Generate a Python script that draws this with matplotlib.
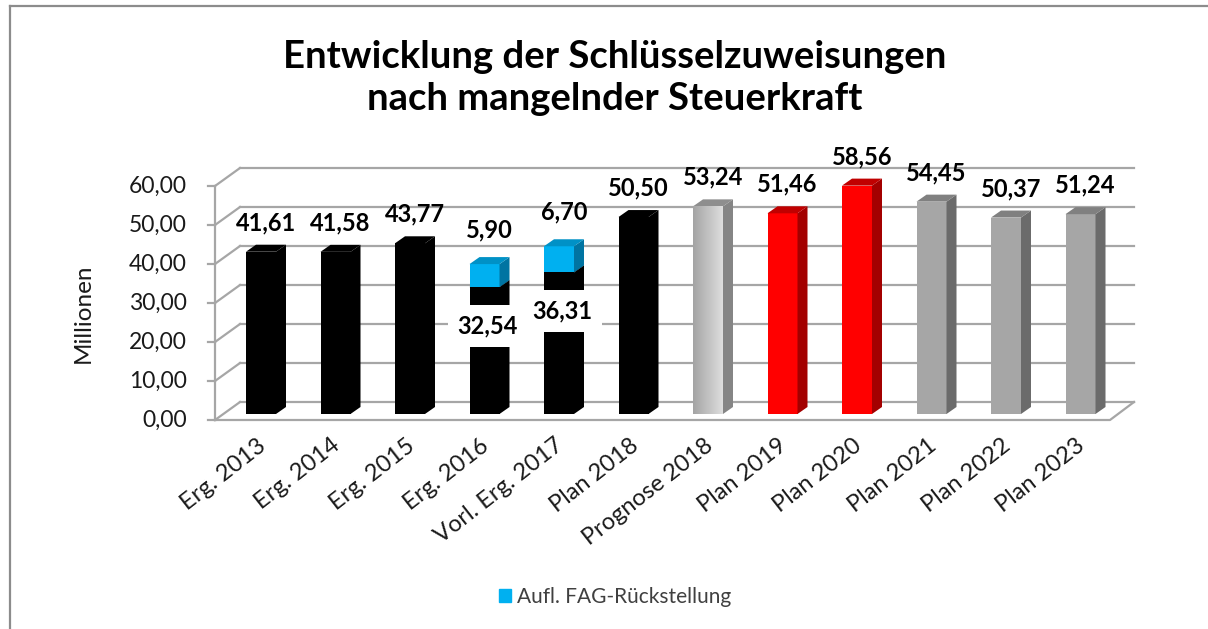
import matplotlib.pyplot as plt
import numpy as np
from matplotlib.colors import LinearSegmentedColormap
from matplotlib.lines import Line2D
from matplotlib.patches import Patch, Polygon

plt.rcParams["font.family"] = ["Lato", "DejaVu Sans"]

CATEGORIES = [
    "Erg. 2013", "Erg. 2014", "Erg. 2015", "Erg. 2016", "Vorl. Erg. 2017",
    "Plan 2018", "Prognose 2018", "Plan 2019", "Plan 2020",
    "Plan 2021", "Plan 2022", "Plan 2023",
]
VALUES = [41.61, 41.58, 43.77, 32.54, 36.31, 50.50, 53.24, 51.46, 58.56, 54.45, 50.37, 51.24]
RUECKSTELLUNG = [0, 0, 0, 5.90, 6.70, 0, 0, 0, 0, 0, 0, 0]
KIND = ["ist"] * 6 + ["prognose", "plan_rot", "plan_rot", "plan", "plan", "plan"]
Y_TICKS = [0, 10, 20, 30, 40, 50, 60]
LEGEND_LABEL = "Aufl. FAG-Rückstellung"

# (front, side, top)
COLORS = {
    "ist": ("#000000", "#000000", "#000000"),
    "prognose": ("#c8c8c8", "#858585", "#8e8e8e"),
    "plan_rot": ("#ff0000", "#a30000", "#c00000"),
    "plan": ("#a6a6a6", "#6b6b6b", "#808080"),
    "blau": ("#00b0f0", "#0074a2", "#0091c6"),
}
GRID = "#a6a6a6"

# pixel geometry of the figure
W, H = 1208, 629
CX0, STEP = 261, 74.5      # centre of first bar face, px between bars
BASE, PPU = 414, 3.9       # px of value 0 at bar plane, px per unit


def dx(px):
    return px / STEP


def dy(px):
    return px / PPU


def fmt(v):
    return f"{v:.2f}".replace(".", ",")


BW = dx(30)
DEPTH_X, DEPTH_Y = dx(10), dy(7)


def box3d(ax, x, bottom, top, colors, z=3):
    front, side, topc = colors
    xl, xr = x - BW / 2, x + BW / 2
    ax.add_patch(Polygon([(xr, bottom), (xr + DEPTH_X, bottom + DEPTH_Y),
                          (xr + DEPTH_X, top + DEPTH_Y), (xr, top)],
                         closed=True, facecolor=side, edgecolor="none", zorder=z))
    ax.add_patch(Polygon([(xl, top), (xl + DEPTH_X, top + DEPTH_Y),
                          (xr + DEPTH_X, top + DEPTH_Y), (xr, top)],
                         closed=True, facecolor=topc, edgecolor="none", zorder=z))


fig = plt.figure(figsize=(W / 100, H / 100), dpi=100)
ax = fig.add_axes([0, 0, 1, 1])
ax.axis("off")

x = np.arange(len(CATEGORIES))

# walls / floor
x_front, x_back = dx(215 - CX0), dx(240 - CX0)
x_front_r, x_back_r = dx(1110 - CX0), dx(1134 - CX0)
y_front, y_back = dy(-6), dy(12)
for t in Y_TICKS:
    ax.plot([x_back, x_back_r], [t + y_back] * 2, color=GRID, lw=1.6, zorder=1)
    ax.plot([x_front, x_back], [t + y_front, t + y_back], color=GRID, lw=1.6, zorder=1)
    ax.plot([x_front - dx(7), x_front], [t + y_front] * 2, color=GRID, lw=1.6, zorder=1)
    ax.text(dx(187 - CX0), t + y_front, fmt(t), ha="right", va="center",
            fontsize=16.5, color="#1a1a1a")
ax.plot([x_front, x_front], [y_front, Y_TICKS[-1] + y_front], color=GRID, lw=1.6, zorder=1)
ax.plot([x_front, x_front_r, x_back_r], [y_front, y_front, y_back], color=GRID, lw=1.6, zorder=1)

# bars
fronts = [COLORS[k][0] for k in KIND]
bars = ax.bar(x, VALUES, width=BW, color=fronts, zorder=3)
for i, (v, k) in enumerate(zip(VALUES, KIND)):
    box3d(ax, x[i], 0, v, COLORS[k])
    if k == "prognose":
        cmap = LinearSegmentedColormap.from_list("grad", ["#a4a4a4", "#dedede"])
        im = ax.imshow(np.linspace(0, 1, 256).reshape(1, -1), cmap=cmap, aspect="auto",
                       extent=[x[i] - BW / 2, x[i] + BW / 2, 0, v], zorder=3.5)
        im.set_clip_path(bars[i])

blue = ax.bar(x, RUECKSTELLUNG, bottom=VALUES, width=BW, color=COLORS["blau"][0], zorder=4)
for i, r in enumerate(RUECKSTELLUNG):
    if r > 0:
        box3d(ax, x[i], VALUES[i], VALUES[i] + r, COLORS["blau"], z=4)

# data labels
for i, (v, r) in enumerate(zip(VALUES, RUECKSTELLUNG)):
    if r > 0:
        ax.text(x[i] + dx(5), v + r + dy(34), fmt(r), ha="center", va="center",
                fontsize=17, fontweight="bold", zorder=6)
        ax.text(x[i] + dx(3), v - 10, fmt(v), ha="center", va="center",
                fontsize=17, fontweight="bold", zorder=6,
                bbox=dict(boxstyle="square,pad=0.4", facecolor="white", edgecolor="none"))
    else:
        ax.text(x[i] + dx(5), v + dy(29), fmt(v), ha="center", va="center",
                fontsize=17, fontweight="bold", zorder=6)

# category labels
for i, lab in enumerate(CATEGORIES):
    ax.text(x[i] + dx(2), dy(414 - 443), lab, rotation=38, rotation_mode="anchor",
            ha="right", va="center", fontsize=17, color="#1a1a1a")

ax.set_xlim(dx(-CX0), dx(W - CX0))
ax.set_ylim(dy(BASE - H), dy(BASE))

fig.text(83 / W, 1 - 313 / H, "Millionen", rotation=90, ha="center", va="center",
         fontsize=17.5, color="#1a1a1a")
fig.text(615 / W, 1 - 78 / H, "Entwicklung der Schlüsselzuweisungen\nnach mangelnder Steuerkraft",
         ha="center", va="center", fontsize=27.5, fontweight="bold", linespacing=1.28)

fig.legend(handles=[Patch(color=COLORS["blau"][0], label=LEGEND_LABEL)],
           loc="center", bbox_to_anchor=(615 / W, 1 - 597 / H), frameon=False,
           fontsize=15, handlelength=0.6, handleheight=0.6, handletextpad=0.3,
           borderpad=0, labelcolor="#404040")

# chart border (left and top visible)
fig.add_artist(Line2D([10 / W, 10 / W], [0, 1 - 6 / H], color="#8c8c8c", lw=1.6))
fig.add_artist(Line2D([10 / W, 1], [1 - 6 / H, 1 - 6 / H], color="#8c8c8c", lw=1.6))

fig.savefig("out.png", dpi=100)
